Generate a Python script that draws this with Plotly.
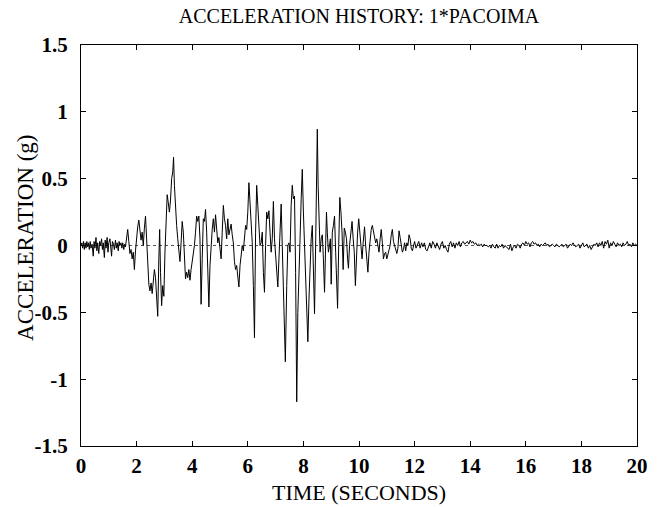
import plotly.graph_objects as go

# ---- data (time in s, acceleration in g) ----
t_pre = [0.00, 0.03, 0.06, 0.09, 0.12, 0.15, 0.18, 0.21, 0.24, 0.27, 0.30, 0.33, 0.36, 0.40,
         0.44, 0.47, 0.50, 0.54, 0.57, 0.60, 0.64, 0.67, 0.70, 0.74, 0.77, 0.80, 0.84, 0.87,
         0.90, 0.94, 0.97, 1.00, 1.04, 1.07, 1.10, 1.13, 1.17, 1.20, 1.24, 1.27, 1.30, 1.34,
         1.37, 1.40, 1.44, 1.47, 1.50, 1.54, 1.57, 1.60]
a_pre = [0.00, 0.02, -0.02, 0.03, -0.03, 0.02, -0.02, 0.03, -0.01, 0.02, -0.03, 0.03, -0.02, 0.01,
         -0.08, 0.03, -0.02, 0.06, -0.04, 0.02, -0.06, 0.03, 0.00, 0.05, -0.03, 0.02, -0.09, 0.04,
         -0.02, 0.06, -0.05, 0.02, 0.05, -0.03, -0.08, 0.03, 0.01, -0.03, 0.04, -0.02, 0.02, -0.04,
         0.03, 0.00, 0.02, -0.02, 0.02, -0.03, 0.01, -0.01]

t_strong = [1.64, 1.68, 1.72, 1.76, 1.80, 1.84, 1.88, 1.92, 1.96, 2.00, 2.04, 2.08, 2.12, 2.16,
            2.20, 2.24, 2.28, 2.32, 2.36, 2.40, 2.44, 2.48, 2.52, 2.56, 2.60, 2.64, 2.68, 2.72,
            2.76, 2.80, 2.83, 2.86, 2.90, 2.94, 2.98, 3.02, 3.06, 3.10, 3.14, 3.18, 3.22, 3.26,
            3.30, 3.33, 3.36, 3.40, 3.44, 3.48, 3.52, 3.56, 3.60, 3.64, 3.68, 3.72, 3.76, 3.80,
            3.84, 3.88, 3.92, 3.96, 4.00, 4.04, 4.08, 4.12, 4.16, 4.20, 4.24, 4.28, 4.32, 4.36,
            4.40, 4.44, 4.48, 4.52, 4.56, 4.60, 4.64, 4.68, 4.72, 4.76, 4.80, 4.84, 4.88, 4.92,
            4.96, 5.00, 5.04, 5.08, 5.12, 5.16, 5.20, 5.24, 5.28, 5.32, 5.36, 5.40, 5.44, 5.48,
            5.52, 5.56, 5.60, 5.64, 5.68, 5.72, 5.76, 5.80, 5.84, 5.88, 5.92, 5.96, 6.00, 6.04,
            6.08, 6.12, 6.16, 6.20, 6.24, 6.28, 6.32, 6.36, 6.40, 6.44, 6.48, 6.52, 6.56, 6.60,
            6.64, 6.68, 6.72, 6.76, 6.80, 6.84, 6.88, 6.92, 6.96, 7.00, 7.04, 7.08, 7.12, 7.16,
            7.20, 7.24, 7.28, 7.32, 7.35, 7.40, 7.44, 7.48, 7.52, 7.56, 7.60, 7.64, 7.68, 7.72,
            7.76, 7.80, 7.84, 7.88, 7.92, 7.96, 8.00, 8.04, 8.08, 8.12, 8.16, 8.20, 8.24, 8.28,
            8.32, 8.36, 8.40, 8.44, 8.47, 8.50, 8.53, 8.56, 8.60, 8.64, 8.68, 8.72, 8.76, 8.80,
            8.83, 8.86, 8.90, 8.94, 8.97, 9.00, 9.04, 9.08, 9.12, 9.16, 9.20, 9.23, 9.27, 9.31,
            9.35, 9.39, 9.43, 9.47, 9.51, 9.55, 9.59, 9.62, 9.66, 9.70, 9.75, 9.79, 9.83, 9.87,
            9.91, 9.95, 9.99, 10.03, 10.07, 10.11, 10.15, 10.20, 10.24, 10.28, 10.32, 10.36,
            10.40, 10.44, 10.48, 10.52, 10.56, 10.60, 10.64, 10.68, 10.72, 10.76, 10.80, 10.84,
            10.88, 10.92, 10.96, 11.00, 11.04, 11.08, 11.12, 11.16, 11.20, 11.24, 11.28, 11.32,
            11.36, 11.40, 11.44, 11.48, 11.52, 11.56, 11.60, 11.64, 11.68, 11.72, 11.76, 11.80,
            11.84, 11.88, 11.92, 11.96]
a_strong = [0.04, 0.12, 0.03, -0.06, -0.03, -0.10, -0.05, -0.18, -0.04, 0.06, 0.14, 0.19, 0.12, 0.04,
            0.10, 0.00, 0.13, 0.22, 0.05, -0.18, -0.29, -0.34, -0.28, -0.36, -0.25, -0.18, -0.24, -0.40,
            -0.53, -0.10, 0.12, -0.20, -0.45, -0.30, -0.38, -0.05, 0.15, 0.38, 0.32, 0.25, 0.34, 0.50,
            0.55, 0.66, 0.45, 0.25, 0.15, 0.05, -0.05, -0.12, 0.02, 0.18, 0.10, -0.05, -0.25, -0.20,
            -0.24, -0.18, -0.26, -0.18, -0.12, -0.08, 0.00, 0.10, 0.22, 0.18, 0.22, 0.05, -0.44, -0.10,
            0.20, 0.18, 0.27, 0.10, -0.20, -0.46, -0.15, 0.02, 0.12, 0.20, 0.10, 0.23, 0.15, 0.02,
            0.06, -0.02, -0.10, 0.10, 0.30, 0.20, 0.15, 0.05, 0.20, 0.08, 0.12, 0.16, 0.08, 0.02,
            -0.12, -0.18, -0.15, -0.22, -0.31, -0.15, -0.05, 0.00, -0.04, 0.06, 0.15, 0.12, 0.25, 0.47,
            0.30, 0.18, 0.02, -0.30, -0.69, 0.10, 0.45, 0.30, 0.15, 0.00, 0.02, 0.10, -0.20, -0.35,
            0.00, 0.25, 0.20, 0.26, 0.10, -0.05, 0.05, 0.33, 0.05, -0.10, -0.20, -0.31, -0.10, 0.15,
            0.31, 0.00, -0.30, -0.60, -0.87, -0.30, 0.00, 0.02, -0.05, 0.30, 0.45, 0.35, 0.37, -0.20,
            -1.17, -0.50, -0.10, 0.05, 0.35, 0.57, 0.25, 0.00, -0.20, -0.45, -0.72, -0.40, -0.15, 0.05,
            0.15, -0.10, -0.51, 0.00, 0.35, 0.87, 0.45, 0.20, -0.05, 0.05, 0.08, -0.10, -0.35, 0.00,
            0.25, 0.10, -0.05, 0.00, 0.05, -0.29, 0.10, 0.15, 0.22, -0.05, -0.30, -0.47, 0.00, 0.36,
            0.25, 0.10, -0.18, 0.13, 0.10, 0.05, -0.10, -0.17, 0.00, 0.10, 0.18, 0.05, -0.05, -0.30,
            -0.05, 0.10, 0.20, 0.08, 0.02, -0.10, 0.02, 0.14, 0.00, -0.15, -0.20, -0.05,
            0.05, 0.12, 0.15, 0.10, 0.08, 0.02, 0.05, -0.02, -0.05, 0.05, 0.12, 0.02,
            -0.10, -0.06, -0.05, -0.10, -0.07, -0.03, 0.00, 0.08, 0.12, 0.03, 0.00, -0.05,
            -0.06, -0.02, 0.11, 0.06, 0.00, -0.05, -0.03, 0.02, -0.04, 0.02, 0.00, 0.08,
            0.05, -0.02, -0.04, 0.00]

t_coda = [12.00, 12.05, 12.10, 12.15, 12.20, 12.25, 12.30, 12.35, 12.40, 12.45, 12.50, 12.55, 12.60,
          12.65, 12.70, 12.75, 12.80, 12.85, 12.90, 12.95, 13.00, 13.05, 13.10, 13.15, 13.20, 13.25,
          13.30, 13.35, 13.40, 13.45, 13.50, 13.55, 13.60, 13.65, 13.70, 13.75, 13.80, 13.85, 13.90,
          13.95, 14.00, 14.05, 14.10, 14.15, 14.20, 14.25, 14.30, 14.35, 14.40, 14.45, 14.50, 14.55,
          14.60, 14.65, 14.70, 14.75, 14.80, 14.85, 14.90, 14.95, 15.00, 15.05, 15.10, 15.15, 15.20,
          15.25, 15.30, 15.35, 15.40, 15.45, 15.50, 15.55, 15.60, 15.65, 15.70, 15.75, 15.80, 15.85,
          15.90, 15.95, 16.00, 16.05, 16.10, 16.15, 16.20, 16.25, 16.30, 16.35, 16.40, 16.45, 16.50,
          16.55, 16.60, 16.65, 16.70, 16.75, 16.80, 16.85, 16.90, 16.95, 17.00, 17.05, 17.10, 17.15,
          17.20, 17.25, 17.30, 17.35, 17.40, 17.45, 17.50, 17.55, 17.60, 17.65, 17.70, 17.75, 17.80,
          17.85, 17.90, 17.95, 18.00, 18.05, 18.10, 18.15, 18.20, 18.25, 18.30, 18.35, 18.40, 18.45,
          18.50, 18.55, 18.60, 18.65, 18.70, 18.75, 18.80, 18.85, 18.90, 18.95, 19.00, 19.05, 19.10,
          19.15, 19.20, 19.25, 19.30, 19.35, 19.40, 19.45, 19.50, 19.55, 19.60, 19.65, 19.70, 19.75,
          19.80, 19.85, 19.90, 19.95, 20.00]
a_coda = [0.03, -0.02, 0.01, 0.03, -0.02, 0.02, -0.01, 0.02, -0.03, -0.04, -0.01, 0.02, -0.02,
          0.03, 0.01, -0.02, 0.02, 0.00, -0.03, 0.01, 0.03, -0.02, 0.00, -0.03, -0.05, 0.01,
          0.03, -0.01, 0.02, -0.02, 0.02, 0.00, 0.03, -0.01, 0.02, 0.03, 0.01, 0.02, 0.03,
          0.01, 0.04, 0.02, 0.03, 0.01, 0.02, 0.00, 0.01, 0.00, 0.01, -0.01, 0.01, 0.00,
          0.00, -0.01, 0.00, -0.02, 0.01, -0.01, -0.02, 0.01, -0.02, 0.00, -0.01, 0.01, -0.02,
          0.00, -0.01, -0.02, -0.03, 0.01, -0.04, -0.01, 0.00, -0.02, 0.01, 0.00, -0.02, 0.01,
          0.02, 0.00, 0.03, 0.01, 0.02, -0.01, 0.02, 0.03, 0.01, 0.02, 0.00, 0.01, -0.01,
          0.01, 0.00, 0.01, 0.02, 0.00, 0.01, -0.01, 0.00, 0.01, 0.00, -0.01, 0.01, 0.00,
          -0.01, 0.00, 0.01, -0.01, 0.00, 0.01, -0.02, 0.00, 0.01, 0.00, 0.02, 0.00, -0.01,
          0.00, 0.01, -0.02, 0.00, 0.02, -0.01, 0.00, 0.01, -0.02, 0.00, -0.03, -0.01, 0.01,
          0.00, 0.02, -0.01, 0.02, 0.00, 0.03, -0.02, 0.03, 0.01, 0.04, -0.02, 0.02, 0.00,
          0.03, 0.01, -0.01, 0.02, 0.00, 0.01, -0.01, 0.02, 0.00, 0.01, 0.03, 0.00, 0.01,
          -0.01, 0.02, 0.00, 0.01, 0.00]

x_ticks = [0, 2, 4, 6, 8, 10, 12, 14, 16, 18, 20]
y_ticks = [-1.5, -1, -0.5, 0, 0.5, 1, 1.5]
y_tick_text = ["-1.5", "-1", "-0.5", "0", "0.5", "1", "1.5"]

time = t_pre + t_strong + t_coda
accel = a_pre + a_strong + a_coda

SERIF = "Liberation Serif, Times New Roman, serif"

fig = go.Figure()
fig.add_trace(go.Scatter(x=time, y=accel, mode="lines",
                         line=dict(color="black", width=1), showlegend=False,
                         hoverinfo="skip"))

# dotted zero reference line
fig.add_shape(type="line", xref="x", yref="y", x0=0, x1=20, y0=0, y1=0,
              line=dict(color="#555555", width=1, dash="dot"), layer="below")

axis_common = dict(showgrid=False, zeroline=False, showline=True, linecolor="black",
                   linewidth=1, mirror="ticks", ticks="inside", ticklen=5,
                   tickcolor="black", tickwidth=1,
                   tickfont=dict(family=SERIF, size=21, color="black", weight="bold"))

fig.update_xaxes(range=[0, 20], tickvals=x_ticks, ticktext=[str(v) for v in x_ticks],
                 ticklabelstandoff=1, **axis_common)
fig.update_yaxes(range=[-1.5, 1.5], tickvals=y_ticks, ticktext=y_tick_text,
                 ticklabelstandoff=8, **axis_common)

fig.update_layout(
    width=660, height=507,
    margin=dict(l=81, r=16, t=45, b=61),
    paper_bgcolor="white", plot_bgcolor="white",
    hovermode=False,
    title=dict(text="ACCELERATION HISTORY: 1*PACOIMA", x=0.5, xref="paper",
               y=1 - 16 / 507, yref="container", yanchor="middle",
               font=dict(family=SERIF, size=20, color="black")),
    annotations=[
        dict(text="TIME (SECONDS)", xref="paper", yref="paper", x=0.5, y=-0.115,
             xanchor="center", yanchor="middle", showarrow=False,
             font=dict(family=SERIF, size=22, color="black")),
        dict(text="ACCELERATION (g)", xref="paper", yref="paper", x=-0.1, y=0.52,
             xanchor="center", yanchor="middle", showarrow=False, textangle=-90,
             font=dict(family=SERIF, size=23, color="black")),
    ],
)

# remove the browser's default 8px body margin so the 660x507 figure fills the window
fig.write_html("out.html", config={"displayModeBar": False},
               post_script="document.body.style.margin='0px';")
